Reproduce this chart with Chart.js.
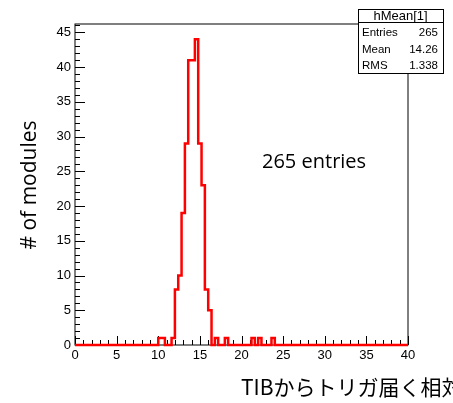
<!DOCTYPE html>
<html lang="ja">
<head>
    <meta charset="UTF-8">
    <title>hMean[1]</title>
    <script src="https://cdn.jsdelivr.net/npm/chart.js"></script>
    <style>
        html, body {
            margin: 0;
            padding: 0;
            background: #fff;
        }
        .chart-container {
            position: relative;
            width: 453px;
            height: 403px;
        }
    </style>
</head>
<body>
    <div class="chart-container">
        <canvas id="histChart"></canvas>
    </div>

    <script>
        // histogram: 100 bins of width 0.4 from 0 to 40
        const binLow = 0;
        const binWidth = 0.4;
        const counts = [
            0, 0, 0, 0, 0, 0, 0, 0, 0, 0,
            0, 0, 0, 0, 0, 0, 0, 0, 0, 0,
            0, 0, 0, 0, 0, 1, 1, 0, 0, 1,
            8, 10, 19, 29, 41, 41, 44, 29, 23, 8,
            5, 0, 1, 0, 0, 1, 0, 0, 0, 0,
            0, 0, 0, 1, 0, 1, 0, 0, 0, 1,
            0, 0, 0, 0, 0, 0, 0, 0, 0, 0,
            0, 0, 0, 0, 0, 0, 0, 0, 0, 0,
            0, 0, 0, 0, 0, 0, 0, 0, 0, 0,
            0, 0, 0, 0, 0, 0, 0, 0, 0, 0
        ];
        const xRange = [0, 40];
        const yRange = [0, 46.2];
        const yTickValues = [0, 5, 10, 15, 20, 25, 30, 35, 40, 45];

        // stats box
        const statTitle = 'hMean[1]';
        const statLabels = ['Entries', 'Mean', 'RMS'];
        const statValues = ['265', '14.26', '1.338'];

        const yTitle = '# of modules';
        const xTitle = 'TIBからトリガ届く相対時間';
        const note = '265 entries';

        // bin left edges + closing edge, for a stepped line
        const points = counts.map((c, i) => ({ x: binLow + i * binWidth, y: c }));
        points.push({ x: xRange[1], y: counts[counts.length - 1] });

        // ROOT style: frame + ticks pointing inside
        const rootFrame = {
            id: 'rootFrame',
            beforeDatasetsDraw(chart) {
                const { ctx, chartArea: a, scales } = chart;
                ctx.save();
                ctx.strokeStyle = '#000';
                ctx.lineWidth = 1;
                ctx.strokeRect(a.left, a.top, a.right - a.left, a.bottom - a.top);
                ctx.beginPath();
                for (let v = xRange[0]; v <= xRange[1]; v++) {
                    const px = Math.round(scales.x.getPixelForValue(v)) + 0.5;
                    const len = v % 5 === 0 ? 9 : 5;
                    ctx.moveTo(px, a.bottom);
                    ctx.lineTo(px, a.bottom - len);
                }
                for (let v = 0; v <= 46; v++) {
                    const py = Math.round(scales.y.getPixelForValue(v)) + 0.5;
                    const len = v % 5 === 0 ? 10 : 5;
                    ctx.moveTo(a.left, py);
                    ctx.lineTo(a.left + len, py);
                }
                ctx.stroke();
                ctx.restore();
            },
            afterDraw(chart) {
                const { ctx } = chart;
                ctx.save();

                // stats box
                const bx = 358, by = 9, bw = 85, bh = 64, hh = 13;
                ctx.fillStyle = '#fff';
                ctx.fillRect(bx, by, bw, bh);
                ctx.strokeStyle = '#000';
                ctx.lineWidth = 1;
                ctx.strokeRect(bx + 0.5, by + 0.5, bw, bh);
                ctx.beginPath();
                ctx.moveTo(bx, by + hh + 0.5);
                ctx.lineTo(bx + bw, by + hh + 0.5);
                ctx.stroke();
                ctx.fillStyle = '#000';
                ctx.font = '13px "Liberation Sans", Arial, sans-serif';
                ctx.textBaseline = 'middle';
                ctx.textAlign = 'center';
                ctx.fillText(statTitle, bx + bw / 2, by + 7);
                ctx.font = '11.5px "Liberation Sans", Arial, sans-serif';
                statLabels.forEach((lab, i) => {
                    const y = 33 + i * 16.5;
                    ctx.textAlign = 'left';
                    ctx.fillText(lab, bx + 4, y);
                    ctx.textAlign = 'right';
                    ctx.fillText(statValues[i], bx + bw - 5, y);
                });

                // annotation
                ctx.font = '20px "Open Sans", "Noto Sans", sans-serif';
                ctx.textAlign = 'left';
                ctx.fillText(note, 262, 162);

                // y title
                ctx.save();
                ctx.translate(30, 185);
                ctx.rotate(-Math.PI / 2);
                ctx.textAlign = 'center';
                ctx.font = '21px "Open Sans", "Noto Sans", sans-serif';
                ctx.fillText(yTitle, 0, 0);
                ctx.restore();

                // x title (runs off the right edge as in the slide)
                ctx.textAlign = 'left';
                ctx.font = '21px "Noto Sans CJK JP", "Open Sans", sans-serif';
                ctx.fillText(xTitle, 241, 387);

                ctx.restore();
            }
        };

        new Chart(document.getElementById('histChart'), {
            type: 'line',
            data: {
                datasets: [{
                    data: points,
                    borderColor: '#ff0000',
                    borderWidth: 2.5,
                    pointRadius: 0,
                    stepped: true,
                    fill: false,
                    clip: 3
                }]
            },
            options: {
                responsive: true,
                maintainAspectRatio: false,
                animation: false,
                layout: {
                    padding: { left: 0, top: 24, right: 45, bottom: 0 }
                },
                plugins: {
                    legend: { display: false },
                    tooltip: { enabled: false }
                },
                scales: {
                    x: {
                        type: 'linear',
                        min: xRange[0],
                        max: xRange[1],
                        grid: { display: false, drawTicks: false },
                        border: { display: false },
                        ticks: {
                            stepSize: 5,
                            padding: 3,
                            maxRotation: 0,
                            color: '#000',
                            font: { family: '"Liberation Sans", Arial, sans-serif', size: 13 }
                        },
                        afterFit(scale) { scale.height = 58; }
                    },
                    y: {
                        min: yRange[0],
                        max: yRange[1],
                        grid: { display: false, drawTicks: false },
                        border: { display: false },
                        afterBuildTicks(scale) {
                            scale.ticks = yTickValues.map(v => ({ value: v }));
                        },
                        ticks: {
                            padding: 4,
                            color: '#000',
                            font: { family: '"Liberation Sans", Arial, sans-serif', size: 13 }
                        },
                        afterFit(scale) { scale.width = 75; }
                    }
                }
            },
            plugins: [rootFrame]
        });
    </script>
</body>
</html>
